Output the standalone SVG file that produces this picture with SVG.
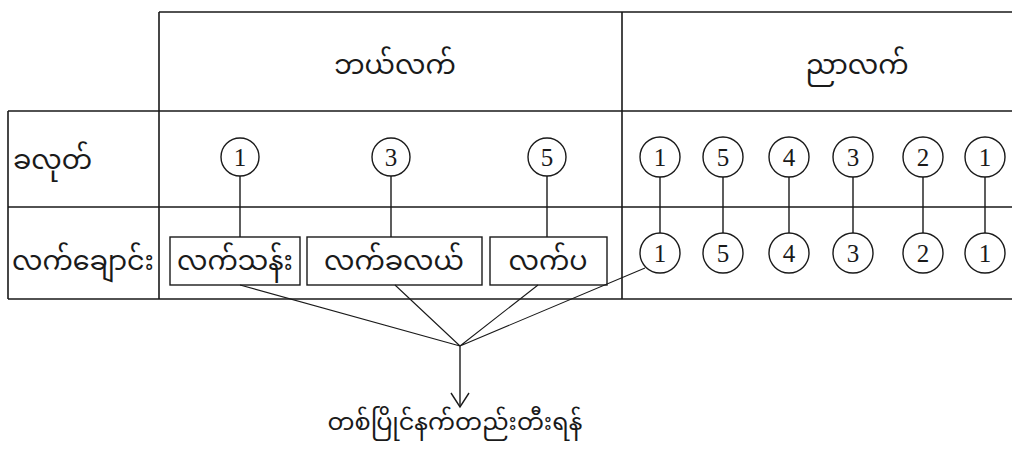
<svg xmlns="http://www.w3.org/2000/svg" width="1012" height="451" viewBox="0 0 1012 451">
<defs>
<style>
.grid{stroke:#1a1a1a;stroke-width:1.6;fill:none}
.box{stroke:#1a1a1a;stroke-width:1.4;fill:none}
.ln{stroke:#1a1a1a;stroke-width:1.4;fill:none}
.fan{stroke:#1a1a1a;stroke-width:1.1;fill:none}
.c{stroke:#1a1a1a;stroke-width:1.4;fill:#fff}
.my{font-family:"Noto Sans Myanmar","Noto Serif Myanmar","Padauk","Myanmar Text","DejaVu Sans",sans-serif;font-size:27px;fill:#1a1a1a}
.cap{font-size:24px}
.n{font-family:"Liberation Serif","Times New Roman",serif;font-size:25px;fill:#1a1a1a;text-anchor:middle}
</style>
<marker id="open" viewBox="0 0 20 20" refX="17" refY="10" markerWidth="20" markerHeight="20" markerUnits="userSpaceOnUse" orient="auto">
<path d="M3,1 L17,10 L3,19" fill="none" stroke="#1a1a1a" stroke-width="1.4"/>
</marker>
</defs>
<rect width="1012" height="451" fill="#fff"/>
<g id="table">
<path class="grid" d="M159,12 H1012 M8,111 H1012 M8,207 H1012 M8,299 H1012 M8,111 V299 M159,12 V299 M622,12 V299"/>
</g>
<g id="headers">
<text id="left-hand" class="my" x="395" y="74" text-anchor="middle">ဘယ်လက်</text>
<text id="right-hand" class="my" x="857" y="74" text-anchor="middle">ညာလက်</text>
<text id="row-key" class="my" x="13" y="169">ခလုတ်</text>
<text id="row-finger" class="my" x="12" y="270">လက်ချောင်း</text>
</g>
<g id="connectors">
<path class="ln" d="M240,176 V237 M391,176 V237 M547,176 V237"/>
<path class="ln" d="M660,177 V233 M723,177 V233 M789,177 V233 M853,177 V233 M923,177 V233 M985,177 V233"/>
<path class="fan" d="M240,285 L460,346 M395,285 L460,346 M538,285 L460,346 M645,268 L460,346"/>
<path class="ln" d="M460,346 V407" marker-end="url(#open)"/>
</g>
<g id="left-keys">
<g id="lk1"><circle class="c" cx="240" cy="157" r="19"/><text class="n" x="240" y="166">1</text></g>
<g id="lk3"><circle class="c" cx="391" cy="157" r="19"/><text class="n" x="391" y="166">3</text></g>
<g id="lk5"><circle class="c" cx="547" cy="157" r="19"/><text class="n" x="547" y="166">5</text></g>
</g>
<g id="left-fingers">
<g id="f-little"><rect class="box" x="170" y="237" width="130" height="48"/><text class="my" x="235" y="270" text-anchor="middle">လက်သန်း</text></g>
<g id="f-middle"><rect class="box" x="307" y="237" width="175" height="48"/><text class="my" x="394" y="270" text-anchor="middle">လက်ခလယ်</text></g>
<g id="f-thumb"><rect class="box" x="490" y="237" width="117" height="48"/><text class="my" x="548" y="270" text-anchor="middle">လက်ပ</text></g>
</g>
<g id="right-keys">
<g><circle class="c" cx="660" cy="157" r="20"/><text class="n" x="660" y="166">1</text></g>
<g><circle class="c" cx="723" cy="157" r="20"/><text class="n" x="723" y="166">5</text></g>
<g><circle class="c" cx="789" cy="157" r="20"/><text class="n" x="789" y="166">4</text></g>
<g><circle class="c" cx="853" cy="157" r="20"/><text class="n" x="853" y="166">3</text></g>
<g><circle class="c" cx="923" cy="157" r="20"/><text class="n" x="923" y="166">2</text></g>
<g><circle class="c" cx="985" cy="157" r="20"/><text class="n" x="985" y="166">1</text></g>
</g>
<g id="right-fingers">
<g><circle class="c" cx="660" cy="253" r="20"/><text class="n" x="660" y="262">1</text></g>
<g><circle class="c" cx="723" cy="253" r="20"/><text class="n" x="723" y="262">5</text></g>
<g><circle class="c" cx="789" cy="253" r="20"/><text class="n" x="789" y="262">4</text></g>
<g><circle class="c" cx="853" cy="253" r="20"/><text class="n" x="853" y="262">3</text></g>
<g><circle class="c" cx="923" cy="253" r="20"/><text class="n" x="923" y="262">2</text></g>
<g><circle class="c" cx="985" cy="253" r="20"/><text class="n" x="985" y="262">1</text></g>
</g>
<g id="caption">
<text class="my cap" x="455" y="430" text-anchor="middle">တစ်ပြိုင်နက်တည်းတီးရန်</text>
</g>
</svg>
